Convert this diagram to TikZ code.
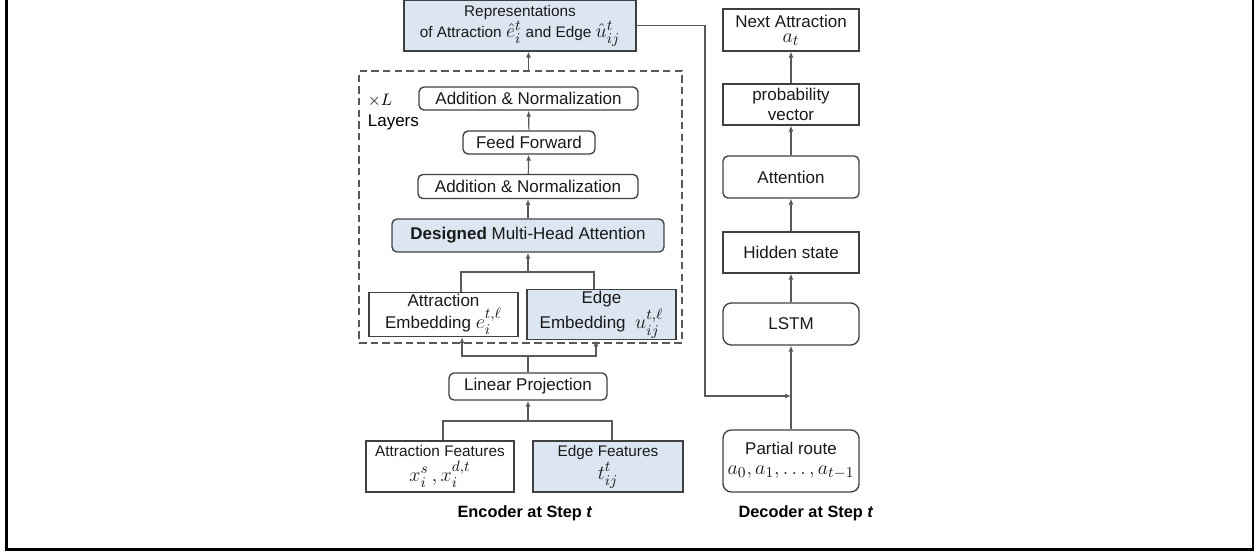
\documentclass[tikz,border=0pt]{standalone}
\usepackage{fontspec}
\setmainfont{Liberation Sans}
\usepackage{amsmath}
\usetikzlibrary{arrows.meta}
\definecolor{boxblue}{HTML}{DCE6F2}
\definecolor{boxline}{HTML}{404040}
\definecolor{arrline}{HTML}{595959}
% larger math, as in the figure
\newcommand{\mth}[1]{{\fontsize{12.5}{13}\selectfont$#1$}}
\tikzset{
  sz/.style 2 args={minimum width=#1*0.6pt, minimum height=#2*0.6pt},
  blk/.style={draw=boxline, line width=0.8pt, inner sep=1pt, align=center,
    text=black!90, font=\fontsize{10.2}{12}\selectfont},
  rblk/.style={blk, rounded corners=3pt},
  smallblk/.style={blk, font=\fontsize{9.2}{11.4}\selectfont},
  blu/.style={fill=boxblue},
  lin/.style={draw=arrline, line width=0.7pt},
  arr/.style={lin, -{Latex[length=3.6pt,width=3pt]}},
  caption/.style={font=\bfseries\fontsize{9.8}{12}\selectfont},
}
\begin{document}
\begin{tikzpicture}[x=0.6pt, y=-0.6pt]
\useasboundingbox (0,0) rectangle (1257,552);
% outer frame
\draw[line width=1.5pt] (6.5,-5) -- (6.5,549.5) -- (1253,549.5) -- (1253,-5);

% Encoder
\node[smallblk, blu, sz={232}{50.5}] (rep) at (520,25.75)
  {Representations\\[0pt]of Attraction \mth{\hat{e}_i^t} and Edge \mth{\hat{u}_{ij}^t}};
\node[draw=arrline, dash pattern=on 4.5pt off 2.5pt, line width=0.8pt, sz={323}{272}] (stack)
  at (520.5,207) {};
\node[anchor=north west, align=left, font=\fontsize{10.2}{13}\selectfont] (xl) at (362,88)
  {$\times L$\\Layers};
\node[rblk, sz={219}{23}] (an1) at (528.5,98.5) {Addition \& Normalization};
\node[rblk, sz={132}{23}] (ff) at (529,142.5) {Feed Forward};
\node[rblk, sz={220}{24}] (an2) at (528,186.5) {Addition \& Normalization};
\node[rblk, blu, sz={272}{33}] (mha) at (528,235.5) {\textbf{Designed} Multi-Head Attention};
\node[blk, sz={149}{43}] (attemb) at (443.5,314.5)
  {Attraction\\[0pt]Embedding \mth{e_i^{t,\ell}}};
\node[blk, blu, sz={149}{43}] (edgeemb) at (601.5,314.5)
  {Edge\\[0pt]Embedding\ \ \mth{u_{ij}^{t,\ell}}};
\node[rblk, sz={158}{27}] (lin) at (528,386.5) {Linear Projection};
\node[smallblk, sz={148}{51}] (attfeat) at (440,466.5)
  {Attraction Features\\[1.5pt]\mth{x_i^s\,, x_i^{d,t}}};
\node[smallblk, blu, sz={150}{51}] (edgefeat) at (608,466.5)
  {Edge Features\\[1pt]\mth{t_{ij}^t}};
\node[caption] (enc) at (525,513) {Encoder at Step \textit{t}};

% encoder connectors
\coordinate (j1) at (528,272);
\coordinate (j2) at (528,356);
\coordinate (j3) at (528,421);
\draw[arr] (stack.north -| an1) -- (rep.south -| an1);
\draw[arr] (ff) -- (an1);
\draw[arr] (an2) -- (ff);
\draw[arr] (mha.north -| an2) -- (an2);
\draw[arr] (j1) -- (mha.south -| j1);
\draw[lin] (attemb.north -| 461,0) |- (j1) -| (edgeemb.north -| 594,0);
\draw[lin] (lin.north -| j2) -- (j2);
\draw[arr] (j2) -| (attemb.south -| 462,0);
\draw[arr] (j2) -| (edgeemb.south -| 596,0);
\draw[arr] (j3) -- (lin.south -| j3);
\draw[lin] (attfeat.north -| 443,0) |- (j3) -| (edgefeat.north -| 612,0);

% Decoder
\node[blk, sz={136}{42}] (next) at (791,30)
  {Next Attraction\\[-3pt]\mth{a_t}};
\node[blk, sz={136}{41}] (prob) at (791,104.5) {probability\\vector};
\node[rblk, sz={136}{42}] (att) at (791,177) {Attention};
\node[blk, sz={136}{41}] (hid) at (791,252.5) {Hidden state};
\node[blk, rounded corners=5pt, sz={136}{42}] (lstm) at (791,324) {LSTM};
\node[blk, rounded corners=5pt, sz={136}{62}] (route) at (791,461)
  {Partial route\\[0pt]\mth{a_0, a_1, \ldots, a_{t-1}}};
\node[caption] (dec) at (806,513) {Decoder at Step \textit{t}};

% decoder connectors
\draw[arr] (prob) -- (next);
\draw[arr] (att) -- (prob);
\draw[arr] (hid) -- (att);
\draw[arr] (lstm) -- (hid);
\draw[arr] (route) -- (lstm);
\coordinate (turn) at (705,396);
\draw[arr] (rep.east) -| (turn) -- (turn -| route.north);
\end{tikzpicture}
\end{document}
